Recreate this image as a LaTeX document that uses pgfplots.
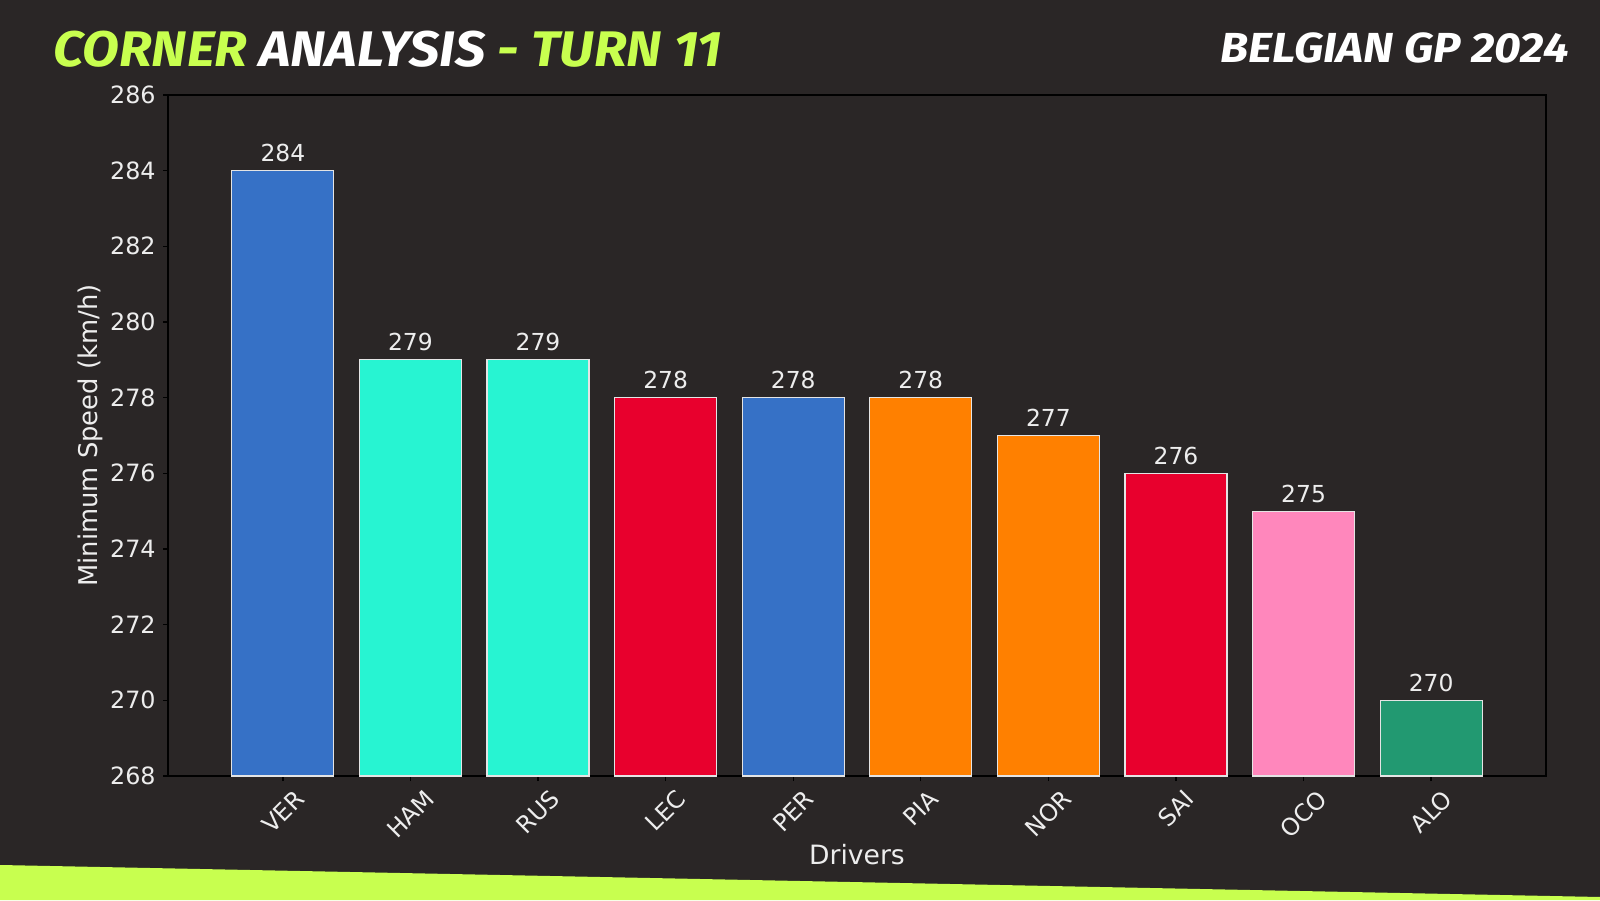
\documentclass[border=0pt]{standalone}
\usepackage{pgfplots}
\pgfplotsset{compat=1.18}
\usepackage{fontspec}
\setmainfont{DejaVu Sans}
\newfontfamily\titlefont{Fira Sans}
\definecolor{bg}{HTML}{2A2626}
\definecolor{lime}{HTML}{C8FF4F}
\definecolor{rb}{HTML}{3671C6}
\definecolor{merc}{HTML}{27F4D2}
\definecolor{fer}{HTML}{E8002D}
\definecolor{mcl}{HTML}{FF8000}
\definecolor{alp}{HTML}{FF87BC}
\definecolor{am}{HTML}{229971}
\definecolor{txt}{HTML}{EDEDED}
\definecolor{edge}{HTML}{E4E4E4}
\begin{document}
\begin{tikzpicture}[x=1pt,y=1pt]
\fill[bg] (0,0) rectangle (800,450);
\useasboundingbox (0,0) rectangle (800,450);
\fill[lime] (0,0) -- (0,17.5) -- (800,1.5) -- (800,0) -- cycle;
\node[anchor=base west, inner sep=0pt] at (26.5,416.5) {\scalebox{1.074}[1]{\fontsize{25}{30}\selectfont\titlefont\bfseries\itshape \textcolor{lime}{CORNER} \textcolor{white}{ANALYSIS} \textcolor{lime}{- TURN 11}}};
\node[anchor=base east, inner sep=0pt, text=white] at (784.5,418.5) {\scalebox{1.10}[1]{\fontsize{21}{25}\selectfont\titlefont\bfseries\itshape BELGIAN GP 2024}};
\begin{axis}[
  at={(84pt,62pt)}, anchor=south west, scale only axis,
  width=689pt, height=340.5pt,
  xmin=-0.9, xmax=9.9, ymin=268, ymax=286,
  ytick={268,270,...,286}, xtick={0,...,9},
  xticklabels={\rotatebox{45}{VER},\rotatebox{45}{HAM},\rotatebox{45}{RUS},\rotatebox{45}{LEC},\rotatebox{45}{PER},\rotatebox{45}{PIA},\rotatebox{45}{NOR},\rotatebox{45}{SAI},\rotatebox{45}{OCO},\rotatebox{45}{ALO}},
  ybar, bar width=0.8, bar shift=0pt,
  axis line style={black, line width=0.7pt},
  tick style={black, line width=0.7pt}, tick align=outside, major tick length=2.5pt,
  xtick pos=bottom, ytick pos=left,
  tick label style={text=txt, font=\fontsize{11.9}{14}\selectfont},
  /pgf/number format/assume math mode=true,
  yticklabel style={anchor=east, inner sep=0pt, xshift=-3.5pt},
  xticklabel style={anchor=north, inner sep=0pt, yshift=-3.5pt},
  ylabel={Minimum Speed (km/h)}, xlabel={Drivers},
  every axis y label/.style={at={(rel axis cs:0,0.5)}, xshift=-39pt, rotate=90, anchor=center, text=txt, font=\fontsize{12.9}{16}\selectfont},
  every axis x label/.style={at={(rel axis cs:0.5,0)}, yshift=-39.5pt, anchor=center, text=txt, font=\fontsize{13.3}{16}\selectfont},
  nodes near coords,
  every node near coord/.append style={text=txt, font=\fontsize{11.7}{14}\selectfont, anchor=base, inner sep=0pt, yshift=4.5pt},
  clip=false,
]
\addplot[fill=rb, draw=edge, line width=0.6pt] coordinates {(0,284)};
\addplot[fill=merc, draw=edge, line width=0.6pt] coordinates {(1,279)};
\addplot[fill=merc, draw=edge, line width=0.6pt] coordinates {(2,279)};
\addplot[fill=fer, draw=edge, line width=0.6pt] coordinates {(3,278)};
\addplot[fill=rb, draw=edge, line width=0.6pt] coordinates {(4,278)};
\addplot[fill=mcl, draw=edge, line width=0.6pt] coordinates {(5,278)};
\addplot[fill=mcl, draw=edge, line width=0.6pt] coordinates {(6,277)};
\addplot[fill=fer, draw=edge, line width=0.6pt] coordinates {(7,276)};
\addplot[fill=alp, draw=edge, line width=0.6pt] coordinates {(8,275)};
\addplot[fill=am, draw=edge, line width=0.6pt] coordinates {(9,270)};
\end{axis}
\end{tikzpicture}
\end{document}
